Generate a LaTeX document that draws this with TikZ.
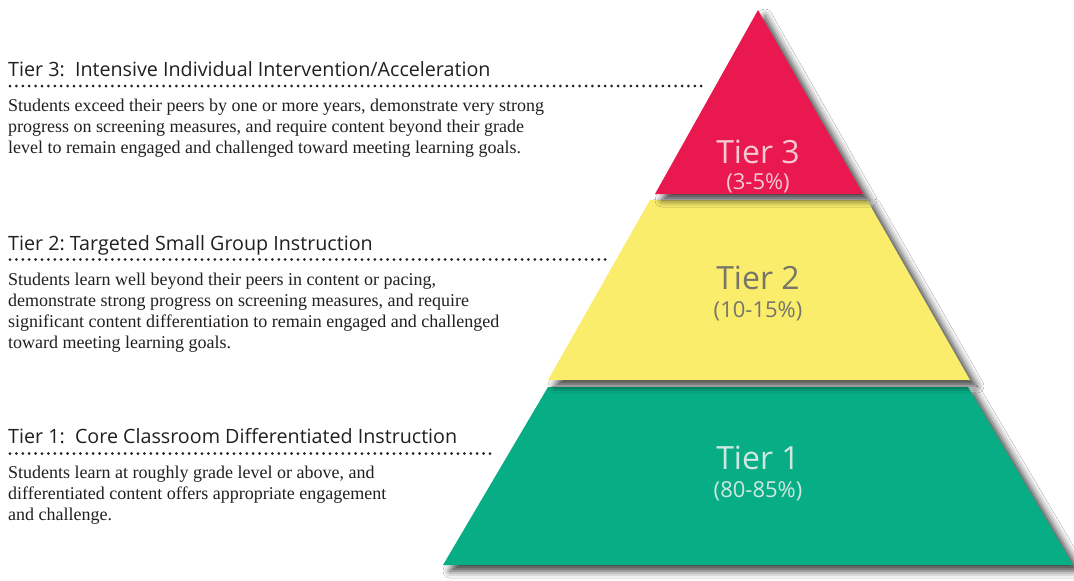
\documentclass[tikz,border=0pt]{standalone}
\usepackage{fontspec}
\setmainfont{Liberation Serif}
\newfontfamily\headfont{Open Sans}
\usetikzlibrary{shadows.blur}
\definecolor{tred}{HTML}{E9184E}
\definecolor{tyellow}{HTML}{F9ED6B}
\definecolor{tgreen}{HTML}{07AE85}
\definecolor{ink}{HTML}{231F20}
\definecolor{redtxt}{HTML}{F4C9D4}
\definecolor{yeltxt}{HTML}{77746A}
\definecolor{grntxt}{HTML}{CFE8DF}
\begin{document}
\begin{tikzpicture}[x=1pt,y=-1pt,
  band/.style={fill=#1, draw=none, blur shadow={shadow xshift=7pt, shadow yshift=-6pt, shadow blur radius=7pt, shadow opacity=75}},
  heading/.style={anchor=base west, inner sep=0pt, font=\headfont\fontsize{19.7}{22}\selectfont, text=ink},
  body/.style={anchor=north west, inner sep=0pt, align=left, font=\fontsize{18}{21}\selectfont, text=ink},
  leader/.style={line width=3pt, line cap=round, dash pattern=on 0pt off 6.4pt, draw=ink},
  tierlbl/.style={font=\headfont\fontsize{32}{34}\selectfont, inner sep=0pt},
  pctlbl/.style={font=\headfont\fontsize{22}{24}\selectfont, inner sep=0pt}]

\useasboundingbox[fill=white] (0,0) rectangle (1074,581);

% pyramid bands
\path[band=tgreen] (548,387) -- (968,387) -- (1073,565) -- (443,565) -- cycle;
\path[band=tyellow] (650,200) -- (867,200) -- (970,380) -- (548,380) -- cycle;
\path[band=tred] (758,10) -- (863,194) -- (655,194) -- cycle;

% pyramid labels
\node[tierlbl, text=redtxt] (t3) at (758,152) {Tier 3};
\node[pctlbl, text=redtxt] (p3) at (758,183) {(3-5\%)};
\node[tierlbl, text=yeltxt] (t2) at (758,278) {Tier 2};
\node[pctlbl, text=yeltxt] (p2) at (758,311) {(10-15\%)};
\node[tierlbl, text=grntxt] (t1) at (758,458) {Tier 1};
\node[pctlbl, text=grntxt] (p1) at (758,491) {(80-85\%)};

% Tier 3 text
\node[heading] (h3) at (8,76) {Tier 3:\ \ Intensive Individual Intervention/Acceleration};
\coordinate (d3s) at (10,86);
\coordinate (d3e) at (702,86);
\draw[leader] (d3s) -- (d3e);
\node[body] (b3) at (8,98.7) {Students exceed their peers by one or more years, demonstrate very strong\\
progress on screening measures, and require content beyond their grade\\
level to remain engaged and challenged toward meeting learning goals.};

% Tier 2 text
\node[heading] (h2) at (8,250) {Tier 2:\ Targeted Small Group Instruction};
\coordinate (d2s) at (10,259.5);
\coordinate (d2e) at (608,259.5);
\draw[leader] (d2s) -- (d2e);
\node[body] (b2) at (8,273) {Students learn well beyond their peers in content or pacing,\\
demonstrate strong progress on screening measures, and require\\
significant content differentiation to remain engaged and challenged\\
toward meeting learning goals.};

% Tier 1 text
\node[heading] (h1) at (8,443) {Tier 1:\ \ Core Classroom Differentiated Instruction};
\coordinate (d1s) at (10,453.5);
\coordinate (d1e) at (495,453.5);
\draw[leader] (d1s) -- (d1e);
\node[body] (b1) at (8,466) {Students learn at roughly grade level or above, and\\
differentiated content offers appropriate engagement\\
and challenge.};
\end{tikzpicture}
\end{document}
